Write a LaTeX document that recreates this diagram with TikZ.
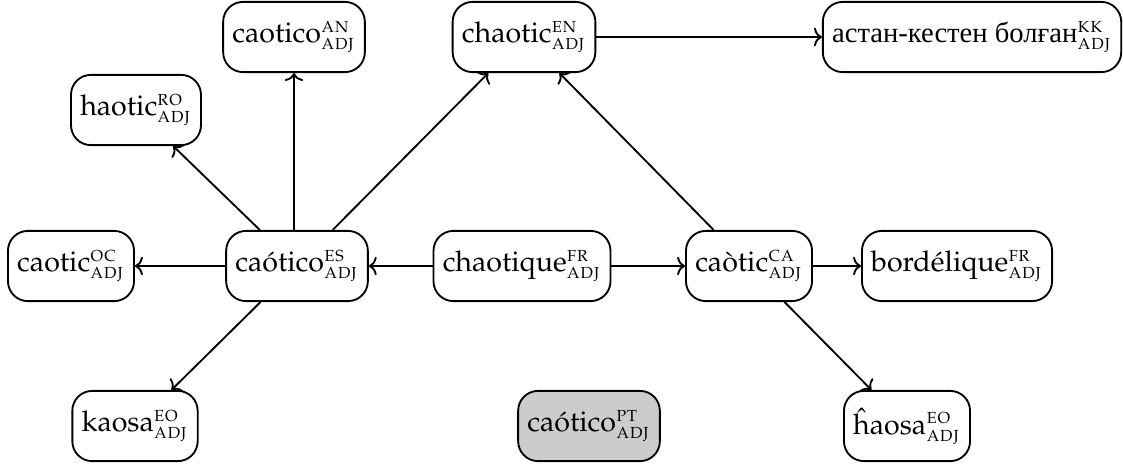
\documentclass[tikz,border=0pt]{standalone}
\usepackage{amsmath}
\usepackage{fontspec}
\newfontfamily\cyrfont{Liberation Serif}
\usepackage[T1,TU]{fontenc}
\newcommand\palfont{\fontencoding{T1}\fontfamily{ppl}\fontsize{10.8}{13}\selectfont}
\newcommand\lex[3]{#1$^{\textsc{#2}}_{\textsc{#3}}$}
\usetikzlibrary{arrows.meta}
\tikzset{
  word/.style={draw, line width=0.7pt, rounded corners=7.5pt, minimum height=26.5pt,
    inner xsep=3.5pt, font=\palfont},
  gone/.style={word, fill=black!20},
  link/.style={-{To[length=3pt,width=7pt]}, line width=0.7pt},
}
\begin{document}
\begin{tikzpicture}[x=0.3774pt, y=-0.3774pt]
\useasboundingbox (0,0) rectangle (1123,466);
\node[word] (ro) at (136,110) {\lex{haotic}{ro}{adj}};
\node[word] (an) at (294,37) {\lex{caotico}{an}{adj}};
\node[word] (en) at (524,37) {\lex{chaotic}{en}{adj}};
\node[word] (kk) at (972,37) {{\cyrfont астан-кестен болған}\lex{}{kk}{adj}};
\node[word] (oc) at (71,266) {\lex{caotic}{oc}{adj}};
\node[word] (es) at (297,266) {\lex{caótico}{es}{adj}};
\node[word] (fr) at (522,266) {\lex{chaotique}{fr}{adj}};
\node[word] (ca) at (749,266) {\lex{caòtic}{ca}{adj}};
\node[word] (bo) at (957,266) {\lex{bordélique}{fr}{adj}};
\node[word] (ka) at (135,426) {\lex{kaosa}{eo}{adj}};
\node[gone] (pt) at (589,426) {\lex{caótico}{pt}{adj}};
\node[word] (ha) at (907,426) {\lex{\^{h}aosa}{eo}{adj}};
\draw[link] (es) -- (ro);
\draw[link] (es.north -| an) -- (an);
\draw[link] (es) -- (en);
\draw[link] (es) -- (oc);
\draw[link] (es) -- (ka);
\draw[link] (fr) -- (es);
\draw[link] (fr) -- (ca);
\draw[link] (ca) -- (en);
\draw[link] (ca) -- (bo);
\draw[link] (ca) -- (ha);
\draw[link] (en) -- (kk);
\end{tikzpicture}
\end{document}
